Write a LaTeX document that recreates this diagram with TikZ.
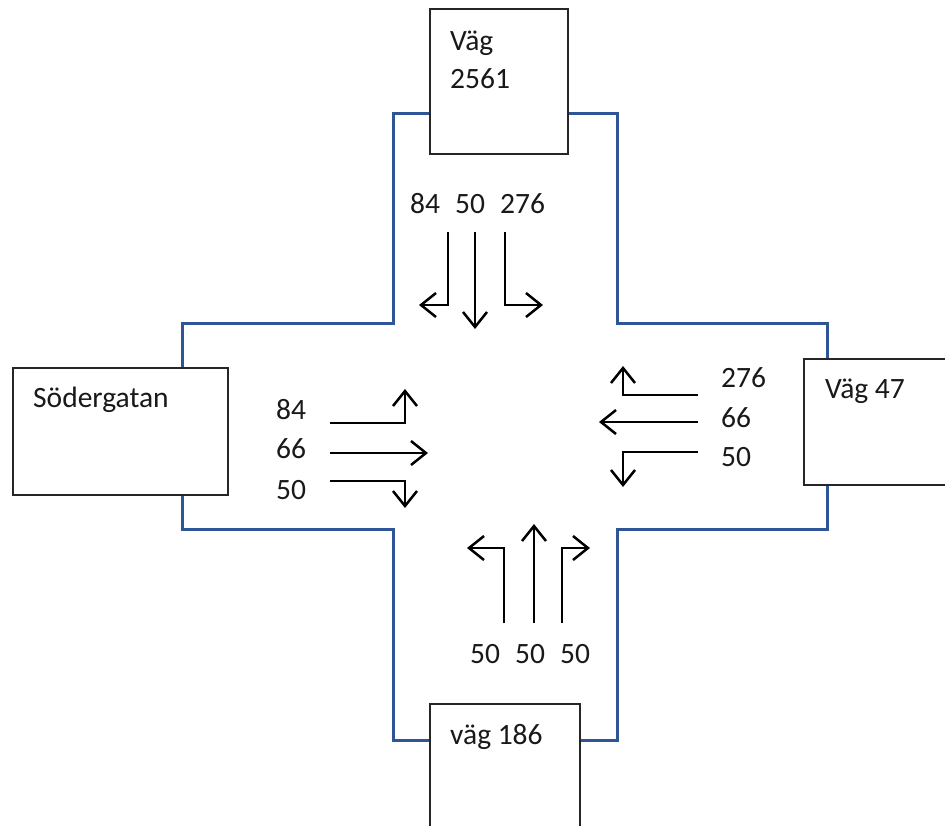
\documentclass[tikz,border=0pt]{standalone}
\usepackage{fontspec}
\setmainfont{Carlito}
\usetikzlibrary{arrows.meta}
\definecolor{roadblue}{HTML}{2F5597}
\begin{document}
\begin{tikzpicture}[x=1pt,y=-1pt,
  road/.style={draw=roadblue,line width=3pt,line join=miter},
  roadbox/.style={draw=black!85,line width=1.6pt,fill=white,rectangle,inner sep=0pt,anchor=north west},
  lbl/.style={anchor=base west,inner sep=0pt,font=\fontsize{29.5}{36}\selectfont,text=black!90},
  arr/.style={draw=black,line width=2.5pt,-{Straight Barb[length=15pt,width=24pt,line width=2.5pt]}}]
\useasboundingbox (0,0) rectangle (945,825);
\clip (0,0) rectangle (945,825);
% road outline
\draw[road] (393,113) -- (393,323) -- (182,323) -- (182,529) -- (393,529) -- (393,740)
  -- (617,740) -- (617,529) -- (827,529) -- (827,323) -- (617,323) -- (617,113) -- cycle;
% boxes
\node[roadbox,minimum width=138pt,minimum height=145pt] (north) at (429,8) {};
\node[roadbox,minimum width=150pt,minimum height=140pt] (south) at (429,703) {};
\node[roadbox,minimum width=215pt,minimum height=127pt] (west) at (12,367) {};
\node[roadbox,minimum width=160pt,minimum height=126pt] (east) at (803,358) {};
% box labels
\node[lbl] (tN1) at (450,50) {Väg};
\node[lbl] (tN2) at (450,88) {2561};
\node[lbl] (tS) at (450,744) {väg 186};
\node[lbl] (tW) at (33,407) {Södergatan};
\node[lbl] (tE) at (825,398) {Väg 47};
% counts north
\node[lbl] (nA) at (410,213) {84};
\node[lbl] (nB) at (455,213) {50};
\node[lbl] (nC) at (500,213) {276};
% counts west
\node[lbl] (wA) at (276,419) {84};
\node[lbl] (wB) at (276,458) {66};
\node[lbl] (wC) at (276,499) {50};
% counts east
\node[lbl] (eA) at (721,387) {276};
\node[lbl] (eB) at (721,427) {66};
\node[lbl] (eC) at (721,466) {50};
% counts south
\node[lbl] (sA) at (470,663) {50};
\node[lbl] (sB) at (515,663) {50};
\node[lbl] (sC) at (560,663) {50};
% arrow coordinates north
\coordinate (n1a) at (448,232); \coordinate (n1b) at (448,305); \coordinate (n1c) at (419,305);
\coordinate (n2a) at (475,232); \coordinate (n2b) at (475,329);
\coordinate (n3a) at (505,232); \coordinate (n3b) at (505,305); \coordinate (n3c) at (543,305);
% west
\coordinate (w1a) at (330,423); \coordinate (w1b) at (405,423); \coordinate (w1c) at (405,389);
\coordinate (w2a) at (330,453); \coordinate (w2b) at (428,453);
\coordinate (w3a) at (330,481); \coordinate (w3b) at (405,481); \coordinate (w3c) at (405,508);
% east
\coordinate (e1a) at (698,395); \coordinate (e1b) at (623,395); \coordinate (e1c) at (623,366);
\coordinate (e2a) at (698,422); \coordinate (e2b) at (599,422);
\coordinate (e3a) at (698,452); \coordinate (e3b) at (623,452); \coordinate (e3c) at (623,487);
% south
\coordinate (s1a) at (504,623); \coordinate (s1b) at (504,548); \coordinate (s1c) at (467,548);
\coordinate (s2a) at (534,623); \coordinate (s2b) at (534,524);
\coordinate (s3a) at (562,623); \coordinate (s3b) at (562,548); \coordinate (s3c) at (590,548);
% arrows
\draw[arr] (n1a) -- (n1b) -- (n1c);
\draw[arr] (n2a) -- (n2b);
\draw[arr] (n3a) -- (n3b) -- (n3c);
\draw[arr] (w1a) -- (w1b) -- (w1c);
\draw[arr] (w2a) -- (w2b);
\draw[arr] (w3a) -- (w3b) -- (w3c);
\draw[arr] (e1a) -- (e1b) -- (e1c);
\draw[arr] (e2a) -- (e2b);
\draw[arr] (e3a) -- (e3b) -- (e3c);
\draw[arr] (s1a) -- (s1b) -- (s1c);
\draw[arr] (s2a) -- (s2b);
\draw[arr] (s3a) -- (s3b) -- (s3c);
\end{tikzpicture}
\end{document}
